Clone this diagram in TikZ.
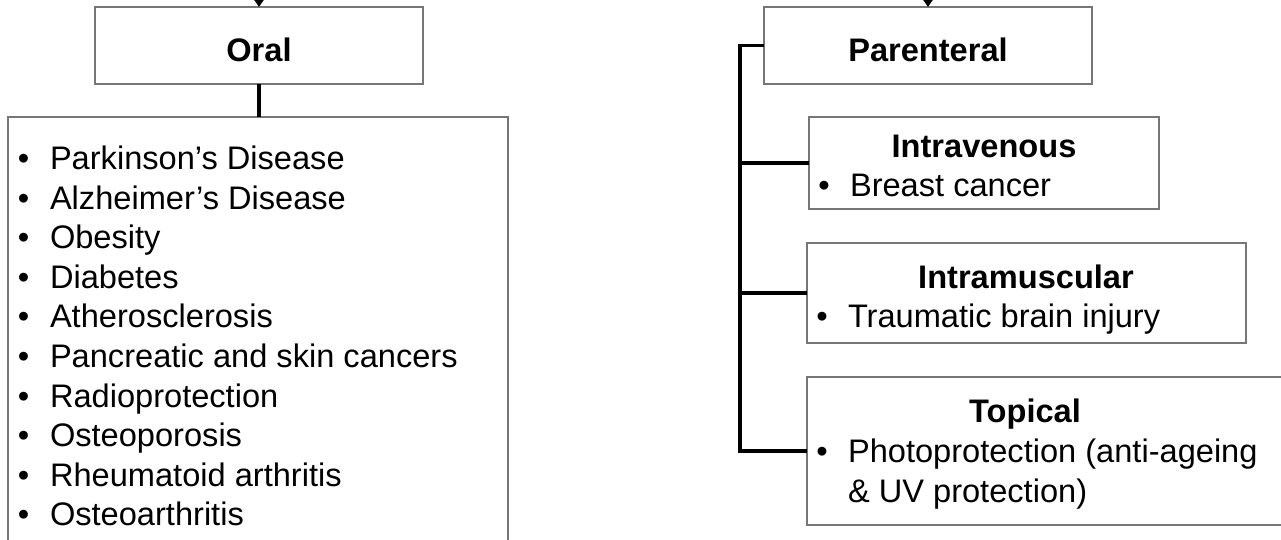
\documentclass[tikz,border=0pt]{standalone}
\usepackage{fontspec}
\setmainfont{Liberation Sans}
\usetikzlibrary{arrows.meta,fit}
\definecolor{boxgray}{RGB}{118,118,118}
\begin{document}
\begin{tikzpicture}[x=0.5pt,y=-0.5pt,
  every node/.style={inner sep=0pt, outer sep=0pt, font=\fontsize{16.3pt}{19.8pt}\selectfont},
  box/.style={draw=boxgray, line width=1pt, inner sep=0pt},
  conn/.style={line width=1.6pt, black, line join=miter},
  arr/.style={conn, -{Triangle[width=6.5pt,length=5pt]}},
  head/.style={anchor=base, font=\fontsize{16.3pt}{19.8pt}\selectfont\bfseries},
  itemtext/.style={anchor=base west, align=left},
  bul/.style={anchor=base}]
\clip (0,0) rectangle (1281,540);
\fill[white] (0,0) rectangle (1281,540);

% boxes
\node[box, fit={(95,7) (423,84)}] (oral) {};
\node[box, fit={(8,117) (508,570)}] (list) {};
\node[box, fit={(764,7) (1092,84)}] (parenteral) {};
\node[box, fit={(809,117) (1159,209)}] (intravenous) {};
\node[box, fit={(807,243) (1246,343)}] (intramuscular) {};
\node[box, fit={(807,377) (1320,525)}] (topical) {};

% incoming arrows
\coordinate (inO) at (259,-20);
\coordinate (inP) at (928,-20);
\draw[arr] (inO) -- (oral.north);
\draw[arr] (inP) -- (parenteral.north);

% connectors
\draw[conn] (oral.south) -- (oral.south |- list.north);
\coordinate (corner) at (740,451);
\draw[conn] (parenteral.west) -| (corner) -- (topical.west);
\draw[conn] (intravenous.west) -- (intravenous.west -| corner);
\draw[conn] (intramuscular.west) -- (intramuscular.west -| corner);

% headings
\node[head] (oralT) at (259,62) {Oral};
\node[head] (parT) at (928,62) {Parenteral};
\node[head] (ivT) at (984,158) {Intravenous};
\node[head] (imT) at (1026,288) {Intramuscular};
\node[head] (topT) at (1025,422) {Topical};

% left list
\foreach \t [count=\i] in {Parkinson’s Disease, Alzheimer’s Disease, Obesity, Diabetes, Atherosclerosis, Pancreatic and skin cancers, Radioprotection, Osteoporosis, Rheumatoid arthritis, Osteoarthritis}{
  \node[bul] (b\i) at (23.5, {169.5+39.6*(\i-1)}) {•};
  \node[itemtext] (t\i) at (50, {169.5+39.6*(\i-1)}) {\t};
}

% right items
\node[bul] (ivB) at (824,197) {•};
\node[itemtext] (ivI) at (850,197) {Breast cancer};
\node[bul] (imB) at (822,327) {•};
\node[itemtext] (imI) at (848,327) {Traumatic brain injury};
\node[bul] (topB) at (822,462) {•};
\node[itemtext] (topI) at (848,462) {Photoprotection (anti-ageing};
\node[itemtext] (topI2) at (848,502) {\& UV protection)};
\end{tikzpicture}
\end{document}
